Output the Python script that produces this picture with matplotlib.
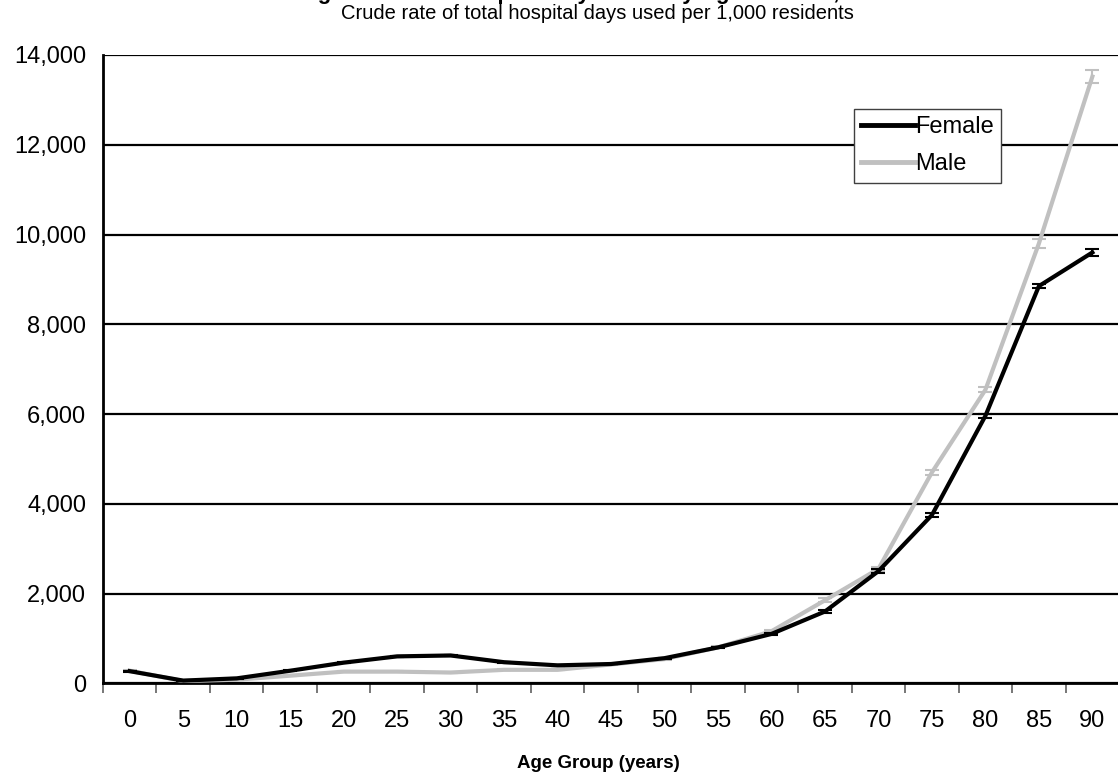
import matplotlib
matplotlib.use("Agg")
import matplotlib.pyplot as plt
import numpy as np
from matplotlib.ticker import FuncFormatter, FixedLocator
from matplotlib.lines import Line2D

plt.rcParams['font.family'] = ['Liberation Sans', 'DejaVu Sans']

age_groups = ["0", "5", "10", "15", "20", "25", "30", "35", "40", "45",
              "50", "55", "60", "65", "70", "75", "80", "85", "90"]
female = [270, 60, 110, 280, 460, 600, 620, 470, 400, 430,
          560, 800, 1100, 1600, 2500, 3750, 5960, 8850, 9600]
male = [280, 50, 80, 170, 260, 260, 240, 300, 300, 420,
        540, 800, 1160, 1850, 2550, 4700, 6540, 9800, 13520]
female_err = [10, 5, 5, 10, 10, 15, 15, 15, 10, 10,
              10, 15, 20, 30, 40, 40, 50, 50, 80]
male_err = [10, 5, 5, 10, 10, 10, 10, 10, 10, 10,
            15, 20, 30, 40, 50, 55, 60, 100, 140]

title = "Figure 5: Total Hospital Days Used by Age and Sex, 2006"
subtitle = "Crude rate of total hospital days used per 1,000 residents"
xlabel = "Age Group (years)"

W, H = 1118, 784
fig = plt.figure(figsize=(W / 100, H / 100), dpi=100)
ax = fig.add_axes([103 / W, 1 - 683.3 / H, (W - 103) / W + 0.001, (683.3 - 55) / H])

x = np.arange(len(age_groups))

ax.errorbar(x, male, yerr=male_err, color='#c0c0c0', lw=3.0, capsize=5,
            capthick=1.5, elinewidth=1.5, label='Male', zorder=3)
ax.errorbar(x, female, yerr=female_err, color='black', lw=3.0, capsize=5,
            capthick=1.5, elinewidth=1.5, label='Female', zorder=4)

ax.set_xlim(-0.5, len(age_groups) - 0.5)
ax.set_ylim(0, 14000)
ax.set_yticks(np.arange(0, 14001, 2000))
ax.yaxis.set_major_formatter(FuncFormatter(lambda v, p: f"{int(v):,}"))
ax.tick_params(axis='y', length=0, pad=12, labelsize=17)
ax.set_xticks(x)
ax.set_xticklabels(age_groups)
ax.tick_params(axis='x', which='major', length=0, pad=19, labelsize=17)
ax.xaxis.set_minor_locator(FixedLocator(np.arange(-0.5, len(age_groups), 1.0)))
ax.tick_params(axis='x', which='minor', length=7, width=1.2, color='#606060')

ax.yaxis.grid(True, color='black', lw=1.6)
ax.set_axisbelow(True)
for s in ['top', 'right']:
    ax.spines[s].set_visible(False)
ax.spines['left'].set_linewidth(2.0)
ax.spines['bottom'].set_linewidth(2.0)

h2 = [Line2D([], [], color='black', lw=3.5), Line2D([], [], color='#c0c0c0', lw=3.5)]
leg = ax.legend(h2, ['Female', 'Male'], loc='upper left', bbox_to_anchor=(0.739, 0.914),
                fontsize=17, frameon=True, fancybox=False, framealpha=1,
                edgecolor='#404040', handlelength=2.3, handletextpad=0.0,
                borderpad=0.3, labelspacing=0.65, borderaxespad=0)
leg.get_frame().set_linewidth(1.0)
leg.set_zorder(5)

fig.text(597 / W, 1.0 + 0.5 / H, title, ha='center', va='baseline', fontsize=16, fontweight='bold')
fig.text(597 / W, 1 - 13.5 / H, subtitle, ha='center', va='center', fontsize=14.5)
fig.text(598 / W, 1 - 763 / H, xlabel, ha='center', va='center', fontsize=13.5,
         fontweight='bold')

fig.savefig('out.png', dpi=100)
